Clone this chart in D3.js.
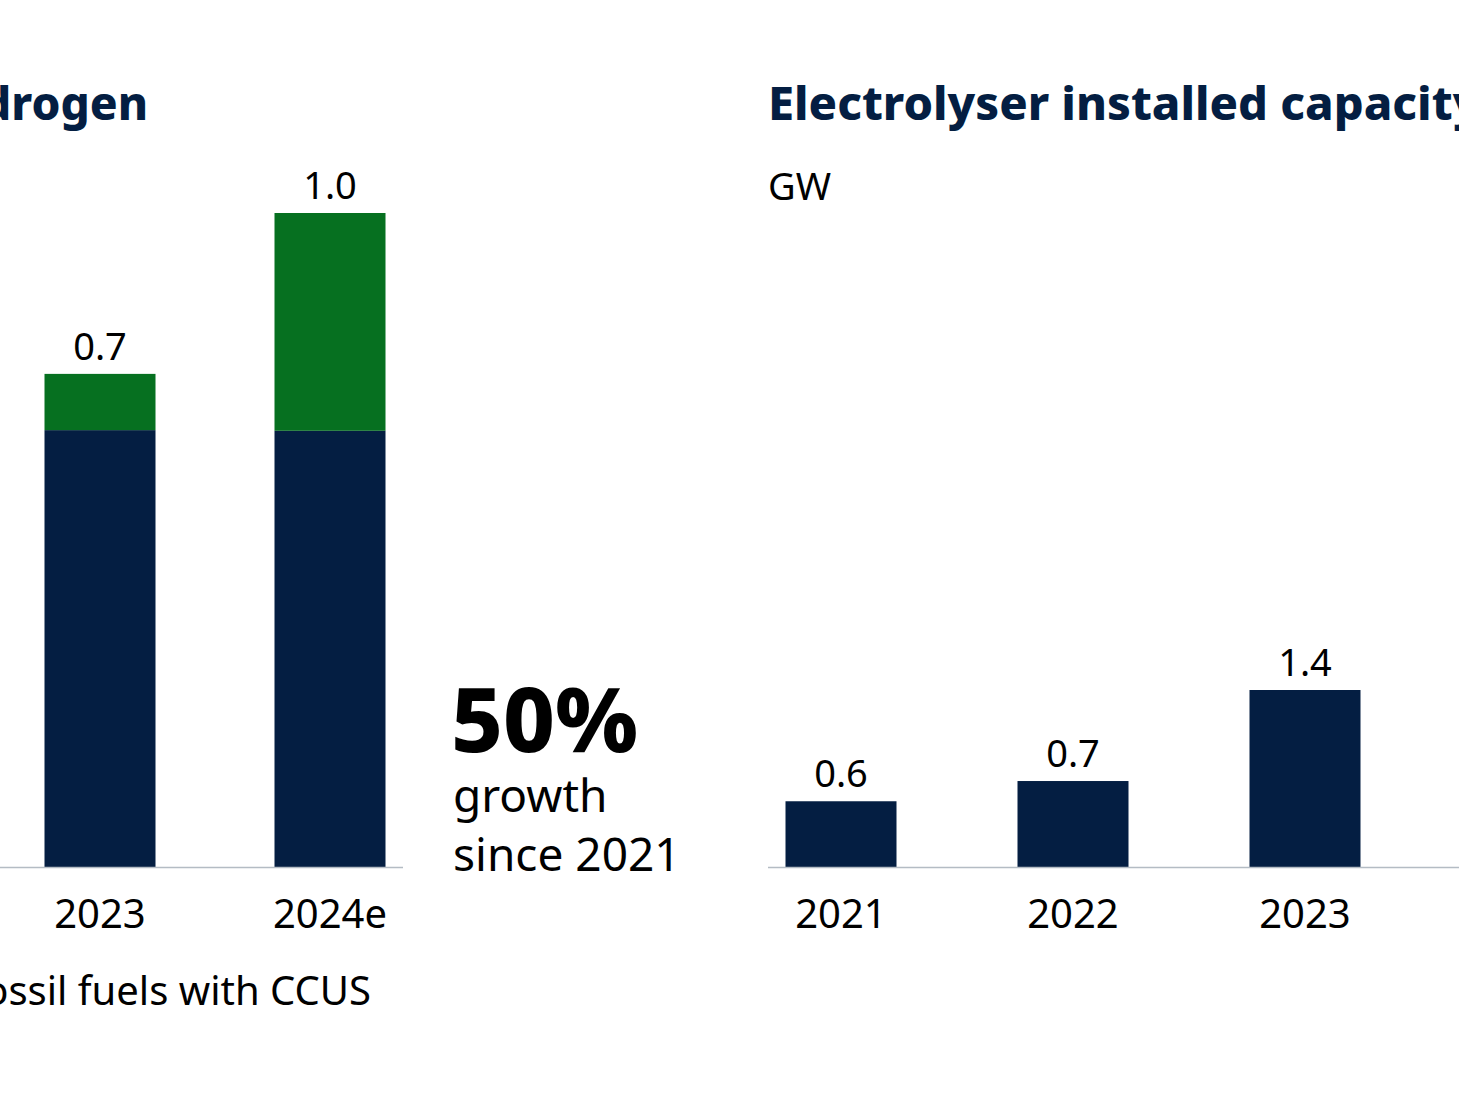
<!DOCTYPE html>
<html><head><meta charset="utf-8">
<script src="https://cdn.jsdelivr.net/npm/d3@7"></script>
<style>body{margin:0;background:#fff}svg{display:block}text{font-family:"Noto Sans",sans-serif}</style>
</head><body><svg id="c" width="1459" height="1094"></svg>
<script>
const leftCats = ["2023","2024e"];
const leftFossil = [0.668, 0.667];
const leftLowEm = [0.086, 0.333];
const leftLabels = ["0.7","1.0"];
const rightCats = ["2021","2022","2023"];
const rightValues = [0.52, 0.68, 1.4];
const rightLabels = ["0.6","0.7","1.4"];
const NAVY="#041e42", GREEN="#067020";
const svg=d3.select("#c");
const base=867, bw=111;

const xL=d3.scalePoint().domain(leftCats).range([100,330]);
const yL=d3.scaleLinear().domain([0,1.0]).range([base,213]);
svg.append("text").attr("x",148).attr("y",120).attr("text-anchor","end").attr("font-size",46).attr("font-weight",800).attr("fill",NAVY).text("Low-emissions hydrogen");
leftCats.forEach((c,i)=>{
  const x=xL(c)-bw/2;
  svg.append("rect").attr("x",x).attr("width",bw).attr("y",yL(leftFossil[i])).attr("height",base-yL(leftFossil[i])).attr("fill",NAVY);
  const t=leftFossil[i]+leftLowEm[i];
  svg.append("rect").attr("x",x).attr("width",bw).attr("y",yL(t)).attr("height",yL(leftFossil[i])-yL(t)).attr("fill",GREEN);
  svg.append("text").attr("x",xL(c)).attr("y",yL(t)-14).attr("text-anchor","middle").attr("font-size",38).text(leftLabels[i]);
  svg.append("text").attr("x",xL(c)).attr("y",928).attr("text-anchor","middle").attr("font-size",40).text(c);
});
svg.append("line").attr("x1",0).attr("x2",403).attr("y1",base+0.5).attr("y2",base+0.5).attr("stroke","#b4bcc4").attr("stroke-width",1.5);
svg.append("text").attr("x",371).attr("y",1005).attr("text-anchor","end").attr("font-size",40).text("Fossil fuels with CCUS");

svg.append("text").attr("x",451).attr("y",752).attr("font-size",90).attr("font-weight",800).text("50%");
svg.append("text").attr("x",453).attr("y",812).attr("font-size",46).text("growth");
svg.append("text").attr("x",453).attr("y",871).attr("font-size",46).text("since 2021");

const xR=d3.scalePoint().domain(rightCats).range([841,1305]);
const yR=d3.scaleLinear().domain([0,1.4]).range([base,690]);
svg.append("text").attr("x",768).attr("y",120).attr("font-size",47).attr("font-weight",800).attr("fill",NAVY).text("Electrolyser installed capacity");
svg.append("text").attr("x",768).attr("y",200).attr("font-size",38).text("GW");
rightCats.forEach((c,i)=>{
  svg.append("rect").attr("x",xR(c)-bw/2).attr("width",bw).attr("y",yR(rightValues[i])).attr("height",base-yR(rightValues[i])).attr("fill",NAVY);
  svg.append("text").attr("x",xR(c)).attr("y",yR(rightValues[i])-14).attr("text-anchor","middle").attr("font-size",38).text(rightLabels[i]);
  svg.append("text").attr("x",xR(c)).attr("y",928).attr("text-anchor","middle").attr("font-size",40).text(c);
});
svg.append("line").attr("x1",768).attr("x2",1459).attr("y1",base+0.5).attr("y2",base+0.5).attr("stroke","#b4bcc4").attr("stroke-width",1.5);
</script></body></html>
